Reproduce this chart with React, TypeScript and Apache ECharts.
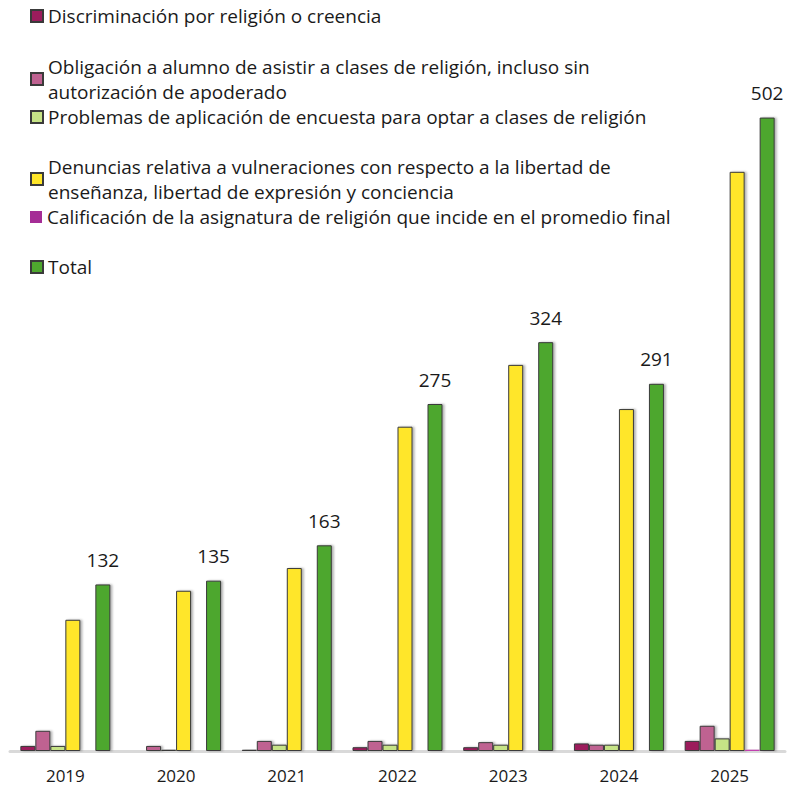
import React, { useEffect, useRef } from "react";
import * as echarts from "echarts";

const categories = ["2019", "2020", "2021", "2022", "2023", "2024", "2025"];
const discriminacion = [4, null, 1, 3, 3, 6, 8];
const obligacion = [16, 4, 8, 8, 7, 5, 20];
const problemas = [4, 1, 5, 5, 5, 5, 10];
const denuncias = [104, 127, 145, 257, 306, 271, 459];
const calificacion = [null, null, null, null, null, 0, 1];
const total = [132, 135, 163, 275, 324, 291, 502];

const seriesNames = [
  "Discriminación por religión o creencia",
  "Obligación a alumno de asistir a clases de religión, incluso sin autorización de apoderado",
  "Problemas de aplicación de encuesta para optar a clases de religión",
  "Denuncias relativa a vulneraciones con respecto a la libertad de enseñanza, libertad de expresión y conciencia",
  "Calificación de la asignatura de religión que incide en el promedio final",
  "Total",
];
const legendText = [
  "Discriminación por religión o creencia",
  "Obligación a alumno de asistir a clases de religión, incluso sin\nautorización de apoderado",
  "Problemas de aplicación de encuesta para optar a clases de religión",
  "Denuncias relativa a vulneraciones con respecto a la libertad de\nenseñanza, libertad de expresión y conciencia",
  "Calificación de la asignatura de religión que incide en el promedio final",
  "Total",
];
const colors = ["#9c1c5c", "#bf6291", "#c6e386", "#ffe629", "#a52d96", "#4ea72e"];
const legendCenters = [17, 67, 118, 167, 218, 268];

export default function App() {
  const ref = useRef<HTMLDivElement>(null);
  useEffect(() => {
    if (!ref.current) return;
    const chart = echarts.init(ref.current, undefined, { renderer: "svg" });
    const font = "Open Sans";
    const dataArr = [discriminacion, obligacion, problemas, denuncias, calificacion, total];
    const legends = seriesNames.map((name, i) => {
      const multi = legendText[i].includes("\n");
      const lg: any = {
        data: [name],
        orient: "vertical",
        left: 30,
        top: multi ? legendCenters[i] - 25.5 : legendCenters[i] - 13.5,
        padding: 0,
        itemWidth: 12,
        itemHeight: 12,
        icon: "rect",
        selectedMode: false,
        formatter: () => legendText[i],
        textStyle: {
          fontFamily: font,
          fontSize: 19,
          color: "#1a1a1a",
          lineHeight: 25,
          padding: multi ? [25, 0, 0, 0] : 0,
        },
      };
      if (i === 4) lg.itemStyle = { borderWidth: 0 };
      return lg;
    });
    const series = seriesNames.map((name, i) => ({
      name,
      type: "bar",
      data: dataArr[i],
      barWidth: 15,
      barGap: "0%",
      itemStyle: {
        color: colors[i],
        borderColor: i === 4 ? "#c040b0" : "#3a3a3a",
        borderWidth: 1,
        shadowColor: "rgba(0,0,0,0.3)",
        shadowOffsetX: 2,
        shadowBlur: 2,
      },
      label:
        i === 5
          ? {
              show: true,
              position: "top",
              distance: 15,
              fontFamily: font,
              fontSize: 19,
              color: "#1a1a1a",
            }
          : { show: false },
    }));
    chart.setOption({
      animation: false,
      legend: legends,
      grid: { left: 10, right: 11, top: 57, bottom: 35 },
      xAxis: {
        type: "category",
        data: categories,
        axisLine: { lineStyle: { color: "#d9d9d9", width: 3 } },
        axisTick: { show: false },
        axisLabel: { fontFamily: font, fontSize: 17, color: "#1a1a1a", margin: 16 },
      },
      yAxis: {
        type: "value",
        min: 0,
        max: 550,
        show: false,
        splitLine: { show: false },
      },
      series,
    });
    return () => chart.dispose();
  }, []);
  return <div ref={ref} style={{ width: 796, height: 786, position: "absolute", left: 0, top: 0 }} />;
}
